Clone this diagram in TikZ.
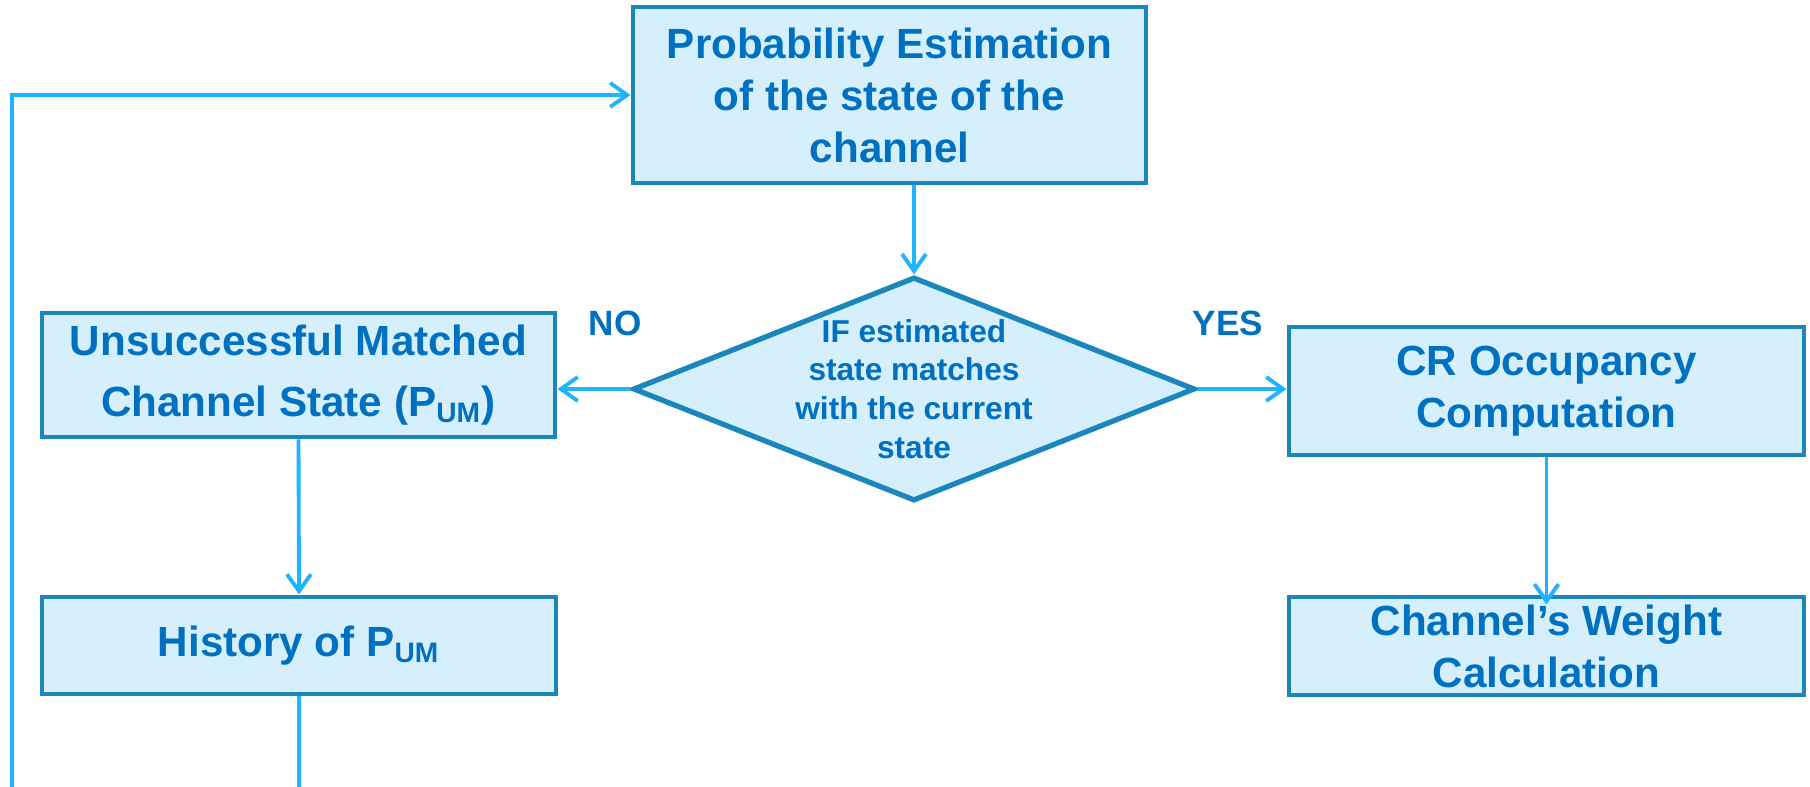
\documentclass[tikz,border=0pt]{standalone}
\usepackage{fontspec}
\setmainfont{Liberation Sans}
\usetikzlibrary{shapes.geometric,arrows.meta}
\definecolor{boxfill}{RGB}{213,240,252}
\definecolor{boxline}{RGB}{27,134,188}
\definecolor{txtblue}{RGB}{0,112,192}
\definecolor{arrblue}{RGB}{30,180,255}
\begin{document}
\begin{tikzpicture}[x=0.1mm,y=-0.1mm,
  blok/.style={draw=boxline,line width=1.4pt,fill=boxfill,text=txtblue,align=center,inner sep=0pt,
    font=\bfseries\fontsize{12}{14.8}\selectfont},
  lin/.style={draw=arrblue,line width=1.1pt},
  arr/.style={lin,-{Straight Barb[length=1.7mm,width=2.4mm]}},
  lbl/.style={text=txtblue,font=\bfseries\fontsize{10}{12}\selectfont}]
\useasboundingbox (0,0) rectangle (1810,787);

\node[blok,minimum width=51.3mm,minimum height=17.6mm] (prob) at (889.5,95) {Probability Estimation\\of the state of the\\channel};
\node[diamond,draw=boxline,line width=1.5pt,fill=boxfill,inner sep=0pt,minimum width=56.2mm,minimum height=22.4mm] (dec) at (914,389) {};
\node[text=txtblue,align=center,font=\bfseries\fontsize{9}{11}\selectfont] (dectxt) at (dec) {IF estimated\\state matches\\with the current\\state};
\node[blok,minimum width=51.3mm,minimum height=12.4mm,font=\bfseries\fontsize{12}{17.4}\selectfont] (unsucc) at (298.5,375) {Unsuccessful Matched\\Channel State (P\textsubscript{UM})};
\node[blok,minimum width=51.4mm,minimum height=9.7mm] (hist) at (299,645.5) {History of P\textsubscript{UM}};
\node[blok,minimum width=51.5mm,minimum height=12.8mm] (occ) at (1546.5,391) {CR Occupancy\\Computation};
\node[blok,minimum width=51.5mm,minimum height=9.8mm] (weight) at (1546.5,646) {Channel’s Weight\\Calculation};

\node[lbl] (no) at (615,323) {NO};
\node[lbl] (yes) at (1228,323) {YES};

\coordinate (hbot) at (300,787);
\coordinate (lbot) at (12,787);

  \draw[arr] (prob.south -| dec.north) -- (dec.north);
  \draw[arr] (dec.west) -- (dec.west -| unsucc.east);
  \draw[arr] (dec.east) -- (dec.east -| occ.west);
  \draw[arr] (unsucc.south) -- (hist.north);
  \draw[arr,shorten >=-1mm] (occ.south) -- (weight.north);
  \draw[lin] (hist.south) -- (hist.south |- hbot);
  \draw[arr] (lbot) |- (prob.west);

\end{tikzpicture}
\end{document}
